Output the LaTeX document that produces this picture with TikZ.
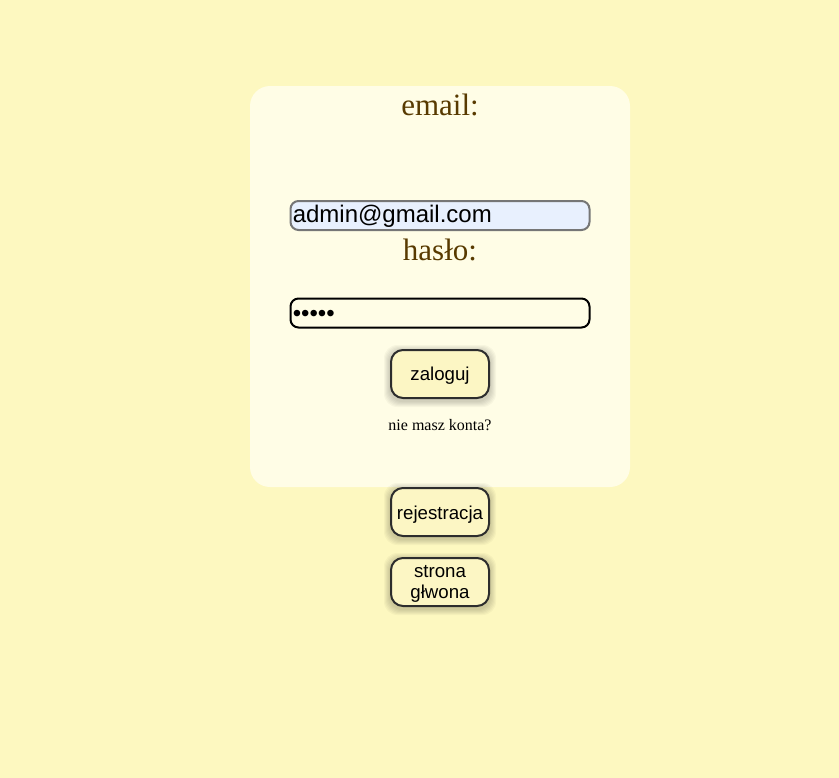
\documentclass[tikz,border=0pt]{standalone}
\usepackage{fontspec}
\setmainfont{Liberation Serif}
\newfontfamily\arialfam{Liberation Sans}
\usetikzlibrary{positioning}

\definecolor{pagebg}{RGB}{253,248,192}
\definecolor{cardbg}{RGB}{255,253,230}
\definecolor{labelbrown}{RGB}{88,58,0}
\definecolor{autofill}{RGB}{232,240,254}
\definecolor{btnfill}{RGB}{252,246,196}
\definecolor{btnline}{RGB}{45,45,45}

\pgfdeclarelayer{pagelayer}
\pgfdeclarelayer{shadelayer}
\pgfsetlayers{pagelayer,shadelayer,main}

\tikzset{
  fieldbox/.style={draw, rectangle, rounded corners=6pt, minimum width=224.25pt,
    minimum height=21.75pt, inner sep=0pt, line width=1.5pt},
  fieldtxt/.style={anchor=base west, inner sep=0pt, font=\arialfam\fontsize{18pt}{20pt}\selectfont},
  lbl/.style={anchor=base, inner sep=0pt, text=labelbrown, font=\fontsize{23.25pt}{26pt}\selectfont},
  btn/.style={draw=btnline, fill=btnfill, rectangle, rounded corners=9pt, line width=1.5pt,
    minimum width=73.5pt, minimum height=36pt, inner sep=0pt},
  btntxt/.style={anchor=base, inner sep=0pt, align=center,
    font=\arialfam\fontsize{14pt}{15.75pt}\selectfont}
}

\begin{document}
\begin{tikzpicture}[x=0.75pt,y=-0.75pt]

\begin{pgfonlayer}{pagelayer}
\fill[pagebg] (0,0) rectangle (839,778);
% karta logowania
\fill[cardbg, rounded corners=15pt] (250,86) rectangle (630,487);
\end{pgfonlayer}
\useasboundingbox (0,0) rectangle (839,778);

\node[lbl] (emaillbl) at (440,115) {email:};
\node[fieldbox, fill=autofill, draw={rgb,255:red,118;green,118;blue,118}] (mailbox) at (440,215.5) {};
\node[fieldtxt] (mailtxt) at (292.5,222.5) {admin@gmail.com};

\node[lbl] (haslolbl) at (440,260) {hasło:};
\node[fieldbox, fill=cardbg, draw=black] (passbox) at (440,313) {};
\node[fieldtxt] (passtxt) at (292.5,321) {•••••};

\node[btn] (zaloguj) at (440,374) {};
\node[btntxt] (zalogujtxt) at (440,380) {zaloguj};
\node[anchor=base, inner sep=0pt, font=\fontsize{12pt}{14pt}\selectfont] (nokonto) at (440,430) {nie masz konta?};

% przyciski pod karta
\node[btn] (rejestracja) at (440,512) {};
\node[btntxt] (rejestracjatxt) at (440,519) {rejestracja};
\node[btn] (glowna) at (440,582) {};
\node[btntxt] (glownatxt) at (440,598) {strona\\głwona};

% miekki cien pod przyciskami
\begin{pgfonlayer}{shadelayer}
\foreach \b in {zaloguj,rejestracja,glowna}
  \foreach \r in {1,...,6}
    \fill[black, opacity=0.03, rounded corners=10pt]
      ([shift={(-\r,2-\r)}]\b.north west) rectangle ([shift={(\r,2+\r)}]\b.south east);
\end{pgfonlayer}

\end{tikzpicture}
\end{document}
